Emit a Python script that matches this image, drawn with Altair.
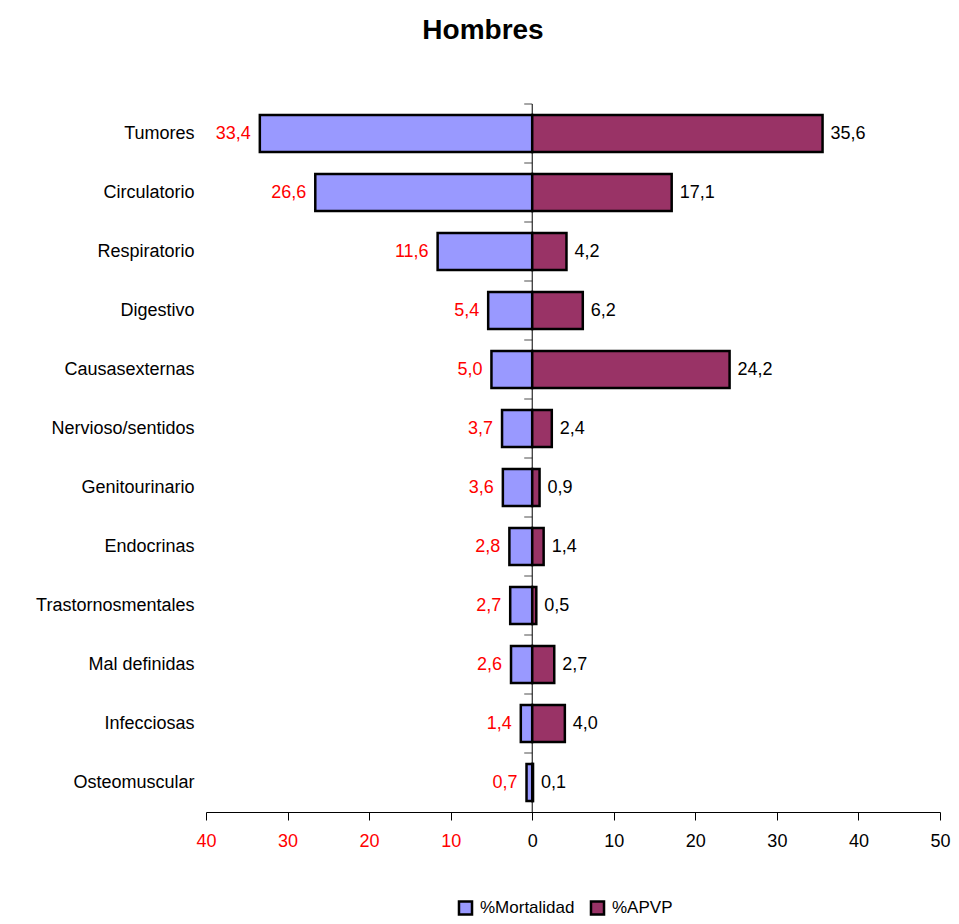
import altair as alt
import pandas as pd

categorias = ["Tumores", "Circulatorio", "Respiratorio", "Digestivo", "Causasexternas",
              "Nervioso/sentidos", "Genitourinario", "Endocrinas", "Trastornosmentales",
              "Mal definidas", "Infecciosas", "Osteomuscular"]
mortalidad = [33.4, 26.6, 11.6, 5.4, 5.0, 3.7, 3.6, 2.8, 2.7, 2.6, 1.4, 0.7]
apvp = [35.6, 17.1, 4.2, 6.2, 24.2, 2.4, 0.9, 1.4, 0.5, 2.7, 4.0, 0.1]
series = ["%Mortalidad", "%APVP"]
colores = ["#9999FF", "#993366"]
xticks = [-40, -30, -20, -10, 0, 10, 20, 30, 40, 50]

rows = []
for c, m, a in zip(categorias, mortalidad, apvp):
    rows.append({"cat": c, "serie": series[0], "val": m, "x": -m})
    rows.append({"cat": c, "serie": series[1], "val": a, "x": a})
df = pd.DataFrame(rows)

FONT = "Liberation Sans"
W, H = 734, 708
PAD_IN = 0.37
STEP = H / len(categorias)

yscale = alt.Scale(domain=categorias, paddingInner=PAD_IN, paddingOuter=PAD_IN / 2)
xscale = alt.Scale(domain=[-40, 50], nice=False, zero=False)

base = alt.Chart(df).transform_calculate(
    lab="replace(format(datum.val, '.1f'), '.', ',')"
)

bars = base.mark_bar(stroke="black", strokeWidth=2.5).encode(
    y=alt.Y("cat:N", scale=yscale, sort=categorias, title=None,
            axis=alt.Axis(domain=False, ticks=False, labelFontSize=18, labelFont=FONT,
                          labelColor="black", labelPadding=12, labelLimit=300)),
    x=alt.X("x:Q", scale=xscale, title=None,
            axis=alt.Axis(values=xticks,
                          labelExpr="abs(datum.value)",
                          labelColor=alt.ExprRef(expr="datum.value < 0 ? 'red' : 'black'"),
                          labelFontSize=18, labelFont=FONT, labelPadding=12,
                          tickSize=8, tickColor="black", domainColor="black",
                          grid=False, labelFlush=False)),
    color=alt.Color("serie:N", scale=alt.Scale(domain=series, range=colores), title=None,
                    legend=alt.Legend(orient="none", legendX=251, legendY=795,
                                      direction="horizontal", symbolType="square",
                                      symbolSize=170, symbolStrokeColor="black",
                                      symbolStrokeWidth=2.5, labelFontSize=17,
                                      labelFont=FONT, labelColor="black",
                                      columnPadding=10, labelOffset=6)),
)

left_text = base.transform_filter(alt.datum.serie == series[0]).mark_text(
    align="right", baseline="middle", dx=-9, fontSize=18, font=FONT, color="red"
).encode(
    y=alt.Y("cat:N", scale=yscale, sort=categorias),
    x=alt.X("x:Q", scale=xscale),
    text="lab:N",
)

right_text = base.transform_filter(alt.datum.serie == series[1]).mark_text(
    align="left", baseline="middle", dx=8, fontSize=18, font=FONT, color="black"
).encode(
    y=alt.Y("cat:N", scale=yscale, sort=categorias),
    x=alt.X("x:Q", scale=xscale),
    text="lab:N",
)

center_line = alt.Chart(pd.DataFrame({"z": [0]})).mark_rule(
    color="black", strokeWidth=1
).encode(x=alt.X("z:Q", scale=xscale))

cat_ticks = alt.Chart(pd.DataFrame({"cat": categorias, "z": [0] * len(categorias)})).mark_tick(
    orient="horizontal", color="black", thickness=1, size=8, xOffset=-4,
    yOffset=-STEP * PAD_IN / 2
).encode(
    y=alt.Y("cat:N", scale=yscale, sort=categorias, bandPosition=0),
    x=alt.X("z:Q", scale=xscale),
)

chart = alt.layer(center_line, cat_ticks, bars, left_text, right_text).properties(
    width=W, height=H,
    padding={"left": 198, "top": 96, "right": 11, "bottom": 104},
    autosize=alt.AutoSizeParams(type="none"),
    title=alt.TitleParams("Hombres", fontSize=28, fontWeight="bold", font=FONT,
                          anchor="middle", frame="group", dx=-90, offset=59,
                          color="black"),
).configure_view(stroke=None)

chart.save("out.html", embed_options={"renderer": "svg", "actions": False})
